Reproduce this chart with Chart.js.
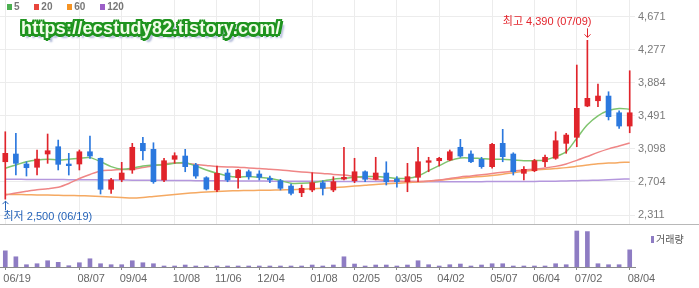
<!DOCTYPE html>
<html lang="ko">
<head>
<meta charset="utf-8">
<title>주가 차트</title>
<script src="https://cdn.jsdelivr.net/npm/chart.js@4.4.1/dist/chart.umd.min.js"></script>
<style>
    html, body { margin: 0; padding: 0; background: #fff; }
    #wrap {
        position: relative; width: 699px; height: 288px; overflow: hidden;
        font-family: "Liberation Sans", Arial, "Noto Sans CJK KR", sans-serif;
    }
    #priceBox { position: absolute; left: 0; top: 0; width: 699px; height: 224px; }
    #volBox { position: absolute; left: 0; top: 224px; width: 699px; height: 64px; }
    #divider { position: absolute; left: 0; top: 224px; width: 699px; border-top: 1px solid #b8b8b8; }
    .legend { position: absolute; left: 7px; top: 1px; font-size: 10px; font-weight: bold; color: #777; line-height: 12px; }
    .legend span.sq { display: inline-block; width: 5px; height: 6px; margin-right: 2px; vertical-align: 0; }
    .legend span.it { margin-right: 12px; }
    .watermark {
        position: absolute; left: 21px; top: 18px; font-size: 18px; font-weight: bold; color: #f2fdea;
        letter-spacing: 0.2px;
        text-shadow: 2px 0 #1f941f, -2px 0 #1f941f, 0 2px #1f941f, 0 -2px #1f941f,
                     2px 2px #1f941f, -2px -2px #1f941f, 2px -2px #1f941f, -2px 2px #1f941f,
                     3px 0 #1f941f, 0 3px #1f941f, 4px 4px 2px #a9b3d6;
    }
    .volLegend { position: absolute; left: 651px; top: 231px; font-size: 10px; color: #555; }
    .volLegend span.sq { display: inline-block; width: 3px; height: 7px; background: #8e7cc3; margin-right: 2px; }
</style>
</head>
<body>
<div id="wrap">
    <div id="priceBox"><canvas id="priceChart"></canvas></div>
    <div id="volBox"><canvas id="volChart"></canvas></div>
    <div id="divider"></div>
    <div class="legend">
        <span class="sq" style="background:#4caf50"></span><span class="it">5</span>
        <span class="sq" style="background:#e8453c"></span><span class="it">20</span>
        <span class="sq" style="background:#f59324"></span><span class="it">60</span>
        <span class="sq" style="background:#9c5fc8"></span><span class="it">120</span>
    </div>
    <div class="watermark">https://ecstudy82.tistory.com/</div>
    <div class="volLegend"><span class="sq"></span>거래량</div>
</div>

<script>
// weekly candles
const opens = [
    2945, 3037, 2918, 2879, 3037, 3124, 2918, 2918, 3064, 2986,
    2617, 2733, 2847, 3164, 3093, 2728, 2974, 3013, 2906, 2755,
    2609, 2811, 2755, 2826, 2799, 2748, 2719, 2656, 2576, 2609,
    2695, 2609, 2739, 2719, 2826, 2736, 2811, 2739, 2707, 2760,
    2938, 2957, 2966, 3117, 3037, 2974, 2886, 3164, 3037, 2807,
    2838, 2945, 2986, 3164, 3236, 3608, 3671, 3727, 3528, 3370
];
const highs = [
    3302, 3283, 2945, 3085, 3275, 3203, 3045, 3085, 3251, 2990,
    2748, 2938, 3164, 3236, 3171, 2986, 3052, 3093, 2926, 2767,
    2894, 2855, 2855, 2847, 2838, 2775, 2736, 2680, 2668, 2814,
    2719, 2767, 3117, 2986, 2838, 2998, 2945, 2767, 2926, 3117,
    2998, 2998, 3085, 3212, 3076, 2998, 3164, 3331, 3052, 2886,
    2974, 3025, 3302, 3283, 4096, 4390, 3870, 3778, 3552, 4028
];
const lows = [
    2500, 2787, 2775, 2787, 2926, 2847, 2787, 2847, 2986, 2561,
    2569, 2707, 2807, 2966, 2688, 2707, 2926, 2826, 2748, 2609,
    2588, 2707, 2629, 2736, 2728, 2696, 2609, 2549, 2529, 2588,
    2549, 2588, 2728, 2696, 2707, 2728, 2668, 2641, 2588, 2707,
    2826, 2894, 2957, 2998, 2933, 2867, 2867, 2945, 2787, 2728,
    2826, 2886, 2974, 3045, 3124, 3600, 3600, 3442, 3343, 3290
];
const closes = [
    3045, 2926, 2874, 2977, 3076, 2914, 2898, 3064, 3013, 2617,
    2728, 2811, 3117, 3076, 2707, 2957, 3017, 2886, 2775, 2620,
    2807, 2728, 2847, 2767, 2760, 2728, 2629, 2569, 2629, 2695,
    2629, 2707, 2760, 2826, 2736, 2811, 2707, 2707, 2767, 2945,
    2957, 2986, 3064, 3013, 2945, 2886, 3152, 3005, 2826, 2855,
    2957, 2998, 3195, 3263, 3581, 3700, 3727, 3481, 3370, 3528
];

// moving averages
const ma5 = [
    2868, 2907, 2946, 2967, 2975, 2967, 2975, 2987, 2994, 2946,
    2887, 2856, 2868, 2895, 2907, 2907, 2927, 2934, 2895, 2847,
    2808, 2776, 2764, 2768, 2760, 2748, 2720, 2689, 2689, 2696,
    2716, 2737, 2748, 2760, 2768, 2768, 2760, 2748, 2748, 2776,
    2839, 2899, 2958, 2990, 2990, 2982, 2975, 2975, 2967, 2958,
    2958, 2967, 3006, 3066, 3225, 3384, 3491, 3554, 3578, 3571
];
const ma20 = [
    2549, 2573, 2594, 2613, 2624, 2641, 2686, 2746, 2794, 2835,
    2845, 2852, 2856, 2877, 2895, 2919, 2931, 2927, 2913, 2901,
    2889, 2883, 2880, 2871, 2865, 2856, 2847, 2835, 2824, 2815,
    2806, 2794, 2788, 2770, 2752, 2734, 2722, 2716, 2710, 2710,
    2716, 2728, 2746, 2764, 2776, 2790, 2805, 2820, 2834, 2846,
    2857, 2870, 2890, 2919, 2961, 3008, 3056, 3098, 3133, 3169
];
const ma60 = [
    2558, 2555, 2553, 2549, 2549, 2546, 2543, 2541, 2537, 2532,
    2526, 2520, 2514, 2520, 2532, 2543, 2555, 2567, 2577, 2585,
    2591, 2597, 2601, 2603, 2605, 2607, 2609, 2613, 2617, 2623,
    2629, 2636, 2645, 2655, 2665, 2675, 2682, 2689, 2698, 2704,
    2713, 2725, 2737, 2748, 2760, 2770, 2782, 2797, 2815, 2832,
    2845, 2855, 2865, 2875, 2890, 2906, 2920, 2929, 2935, 2940
];
const ma120 = [
    2737, 2736, 2735, 2734, 2733, 2733, 2732, 2731, 2730, 2729,
    2728, 2727, 2726, 2725, 2724, 2723, 2722, 2721, 2720, 2719,
    2718, 2717, 2716, 2715, 2715, 2714, 2714, 2713, 2713, 2712,
    2712, 2711, 2711, 2710, 2710, 2710, 2709, 2709, 2709, 2708,
    2708, 2708, 2708, 2708, 2708, 2708, 2709, 2709, 2710, 2710,
    2711, 2712, 2714, 2716, 2719, 2722, 2726, 2731, 2736, 2741
];

// 거래량
const volumes = [
    16300, 10300, 2300, 3300, 6300, 4700, 1300, 4300, 8300, 3300,
    2300, 2300, 6300, 4300, 3300, 1000, 1000, 2000, 1000, 1000,
    1000, 1000, 1000, 1000, 1000, 1000, 1000, 1000, 1000, 2000,
    1000, 2000, 10300, 3000, 1000, 2000, 2000, 1000, 2000, 6300,
    2300, 1000, 2300, 3000, 1000, 2000, 3300, 3300, 1000, 1000,
    1000, 1000, 3300, 2300, 36300, 35700, 3300, 2300, 2300, 17300
];

const tickIndex = [0, 7, 11, 16, 20, 24, 29, 33, 37, 41, 46, 50, 54, 59];
const tickText = ["06/19", "08/07", "09/04", "10/08", "11/06", "12/04", "01/08",
                  "02/05", "03/05", "04/02", "05/07", "06/04", "07/02", "08/04"];
const priceTicks = [2311, 2704, 3098, 3491, 3884, 4277, 4671];
const highDate = "07/09";
const lowDate = "06/19";

const UP = "#e0242b";
const DOWN = "#2b78de";
const FONT = '"Liberation Sans", Arial, "Noto Sans CJK KR", sans-serif';

const labels = opens.map((_, i) => {
    const k = tickIndex.indexOf(i);
    return k >= 0 ? tickText[k] : "";
});
const candleColors = opens.map((o, i) => (closes[i] >= o ? UP : DOWN));
const wicks = lows.map((l, i) => [l, highs[i]]);
const bodies = opens.map((o, i) => [Math.min(o, closes[i]), Math.max(o, closes[i])]);

const isTick = (i) => tickIndex.indexOf(i) >= 0;

function maLine(label, data, color) {
    return {
        type: "line",
        label: label,
        data: data,
        borderColor: color,
        borderWidth: 1.5,
        pointRadius: 0,
        tension: 0.3,
        fill: false,
        order: 3,
    };
}

// no extra padding from tick labels: chart area fills the box
function noPad(s) {
    s.paddingTop = 0;
    s.paddingBottom = 0;
    s.paddingLeft = 0;
    s.paddingRight = 0;
}

// 최고 / 최저 labels
const extremesPlugin = {
    id: "extremes",
    afterDatasetsDraw(chart) {
        const { ctx, scales } = chart;
        const x = scales.x, y = scales.y;
        const hi = highs.indexOf(Math.max(...highs));
        const lo = lows.indexOf(Math.min(...lows));
        ctx.save();
        ctx.font = "11px " + FONT;
        ctx.lineWidth = 1;

        // high
        let px = Math.round(x.getPixelForValue(hi)) + 0.5;
        let py = y.getPixelForValue(highs[hi]);
        ctx.fillStyle = ctx.strokeStyle = "#e3242c";
        ctx.textAlign = "right";
        ctx.textBaseline = "middle";
        ctx.fillText("최고 " + highs[hi].toLocaleString("en-US") + " (" + highDate + ")", px + 4, py - 18);
        ctx.beginPath();
        ctx.moveTo(px, py - 12); ctx.lineTo(px, py - 3);
        ctx.moveTo(px - 3, py - 6); ctx.lineTo(px, py - 3); ctx.lineTo(px + 3, py - 6);
        ctx.stroke();

        // low
        px = Math.round(x.getPixelForValue(lo)) + 0.5;
        py = y.getPixelForValue(lows[lo]);
        ctx.fillStyle = ctx.strokeStyle = "#2563b8";
        ctx.textAlign = "left";
        ctx.fillText("최저 " + lows[lo].toLocaleString("en-US") + " (" + lowDate + ")", px - 2, py + 18);
        ctx.beginPath();
        ctx.moveTo(px, py + 11); ctx.lineTo(px, py + 2);
        ctx.moveTo(px - 3, py + 5); ctx.lineTo(px, py + 2); ctx.lineTo(px + 3, py + 5);
        ctx.stroke();
        ctx.restore();
    },
};

new Chart(document.getElementById("priceChart"), {
    type: "bar",
    data: {
        labels: labels,
        datasets: [
            {
                label: "wick",
                data: wicks,
                backgroundColor: candleColors,
                barThickness: 1,
                grouped: false,
                minBarLength: 1,
                order: 1,
            },
            {
                label: "body",
                data: bodies,
                backgroundColor: candleColors,
                barThickness: 5,
                grouped: false,
                minBarLength: 1,
                order: 0,
            },
            maLine("5", ma5, "#7fc46e"),
            maLine("20", ma20, "#ef8686"),
            maLine("60", ma60, "#f5a962"),
            maLine("120", ma120, "#b497dd"),
        ],
    },
    options: {
        responsive: true,
        maintainAspectRatio: false,
        animation: false,
        layout: { padding: 0 },
        plugins: {
            legend: { display: false },
            tooltip: { enabled: false },
        },
        scales: {
            x: {
                offset: true,
                afterFit: (s) => {
                    s.height = 0;
                    noPad(s);
                },
                ticks: { display: false, autoSkip: false },
                grid: {
                    offset: false,
                    drawTicks: false,
                    color: (c) => (isTick(c.index) ? "#ececec" : "transparent"),
                },
                border: { display: false },
            },
            y: {
                position: "right",
                min: 2204,
                max: 4870,
                afterBuildTicks: (s) => {
                    s.ticks = priceTicks.map((v) => ({ value: v }));
                },
                afterFit: (s) => {
                    s.width = 64;
                    noPad(s);
                },
                ticks: {
                    padding: 3,
                    color: "#7a7a7a",
                    font: { size: 11, family: FONT },
                    callback: (v) => Number(v).toLocaleString("en-US"),
                },
                grid: { color: "#ececec", drawTicks: false },
                border: { display: false },
            },
        },
    },
    plugins: [extremesPlugin],
});

new Chart(document.getElementById("volChart"), {
    type: "bar",
    data: {
        labels: labels,
        datasets: [
            {
                label: "거래량",
                data: volumes,
                backgroundColor: "#8e7cc3",
                barThickness: 4,
            },
        ],
    },
    options: {
        responsive: true,
        maintainAspectRatio: false,
        animation: false,
        layout: { padding: { top: 6, right: 64, left: 0, bottom: 0 } },
        plugins: {
            legend: { display: false },
            tooltip: { enabled: false },
        },
        scales: {
            x: {
                offset: true,
                afterFit: (s) => {
                    s.height = 21;
                    noPad(s);
                },
                grid: {
                    offset: false,
                    drawOnChartArea: false,
                    drawTicks: true,
                    tickLength: 3,
                    tickColor: (c) => (isTick(c.index) ? "#8a8a8a" : "transparent"),
                },
                border: { display: true, color: "#8a8a8a" },
                ticks: {
                    autoSkip: false,
                    maxRotation: 0,
                    minRotation: 0,
                    align: "start",
                    labelOffset: -2,
                    padding: 2,
                    color: "#666",
                    font: { size: 11, family: FONT },
                    callback: (v, i) => labels[i],
                },
            },
            y: { display: false, min: 0, max: 37300 },
        },
    },
});
</script>
</body>
</html>
